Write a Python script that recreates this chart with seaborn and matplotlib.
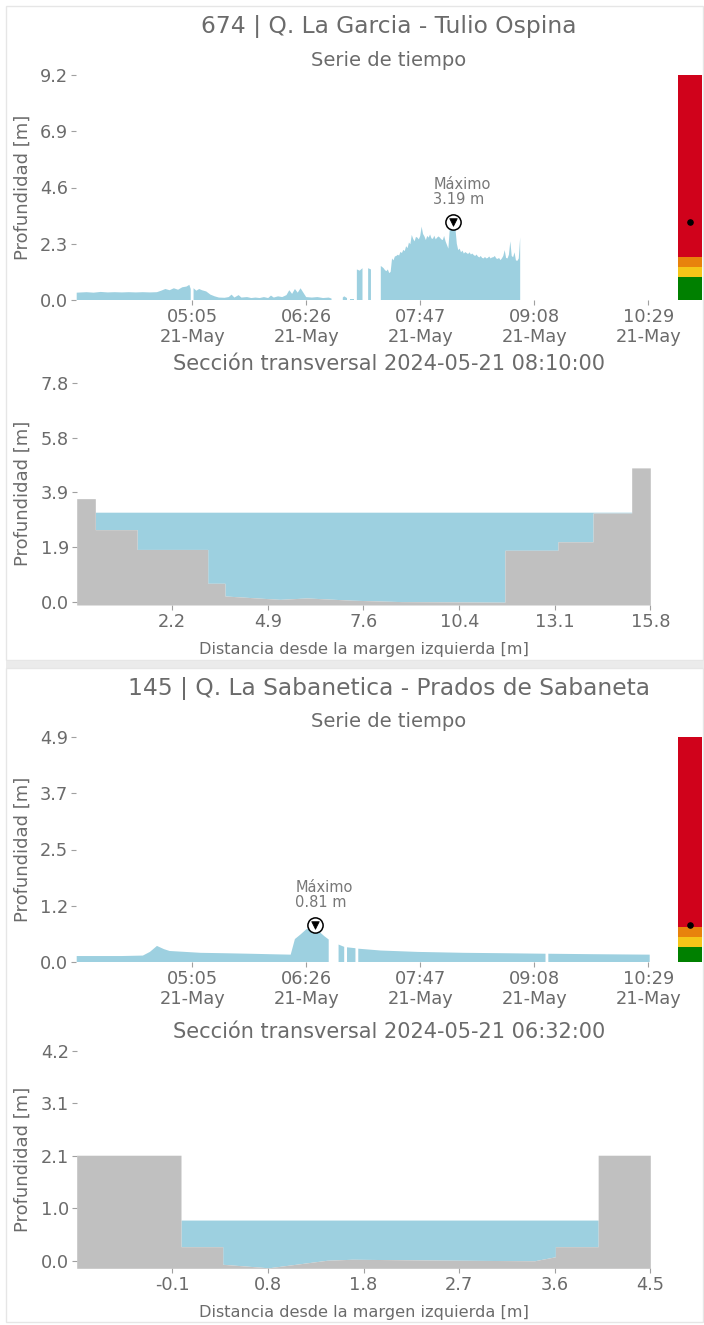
import numpy as np
import pandas as pd
import matplotlib
matplotlib.use("Agg")
import matplotlib.pyplot as plt
import matplotlib.dates as mdates
from matplotlib.patches import Rectangle
import seaborn as sns

# ---------------- DATA ----------------
DATE = "2024-05-21"

# Station 1
st1_title = "674 | Q. La Garcia - Tulio Ospina"
st1_times = ["03:43", "03:50", "03:55", "04:00", "04:05", "04:10", "04:15", "04:20", "04:25",
             "04:30", "04:35", "04:40", "04:43", "04:46", "04:49", "04:52", "04:55", "04:58",
             "05:01", "05:03", "05:04", "05:05", "05:06", "05:08", "05:10", "05:12", "05:15",
             "05:18", "05:21", "05:24", "05:28", "05:31", "05:33", "05:35", "05:38", "05:40",
             "05:44", "05:47", "05:50", "05:53", "05:56", "05:59", "06:01", "06:03", "06:06",
             "06:09", "06:12", "06:14", "06:16", "06:18", "06:20", "06:22", "06:24", "06:26",
             "06:30", "06:34", "06:38", "06:42", "06:44", "06:48", "06:52", "06:53", "06:55",
             "06:56", "06:57", "07:00", "07:01", "07:02", "07:04", "07:06", "07:08", "07:10",
             "07:12", "07:15",
             "07:19", "07:20", "07:21", "07:22", "07:23", "07:24", "07:25", "07:26", "07:27",
             "07:28", "07:29", "07:30", "07:31", "07:32", "07:33", "07:34", "07:35", "07:36",
             "07:37", "07:38", "07:39", "07:40", "07:41", "07:42", "07:43", "07:44", "07:45",
             "07:46", "07:47", "07:48", "07:49", "07:50", "07:51", "07:52", "07:53", "07:54",
             "07:55", "07:56", "07:57", "07:58", "07:59", "08:00", "08:01", "08:02", "08:03",
             "08:04", "08:05", "08:06", "08:07", "08:08", "08:09", "08:10", "08:11", "08:12",
             "08:13", "08:14", "08:15", "08:16", "08:17", "08:18", "08:19", "08:20", "08:21",
             "08:22", "08:23", "08:24", "08:25", "08:26", "08:27", "08:28", "08:29", "08:30",
             "08:31", "08:32", "08:33", "08:34", "08:35", "08:36", "08:37", "08:38", "08:39",
             "08:40", "08:41", "08:42", "08:43", "08:44", "08:45", "08:46", "08:47", "08:48",
             "08:49", "08:50", "08:51", "08:52", "08:53", "08:54", "08:55", "08:56", "08:57",
             "08:58"]
st1_depth = [0.30, 0.32, 0.30, 0.33, 0.31, 0.32, 0.31, 0.32, 0.31,
             0.32, 0.31, 0.32, 0.38, 0.45, 0.40, 0.48, 0.42, 0.52,
             0.55, 0.62, 0.45, np.nan, 0.48, 0.38, 0.45, 0.40, 0.35,
             0.22, 0.15, 0.10, 0.09, 0.12, 0.22, 0.10, 0.20, 0.10,
             0.12, 0.08, 0.10, 0.08, 0.12, 0.08, 0.18, 0.10, 0.15,
             0.12, 0.20, 0.40, 0.25, 0.45, 0.30, 0.48, 0.30, 0.12,
             0.10, 0.12, 0.08, 0.10, 0.06, np.nan, 0.10, 0.15, 0.08,
             np.nan, 0.05, 0.05, np.nan, 1.25, 1.20, 1.30, np.nan, 1.30,
             1.25, np.nan,
             1.39, 1.35, 1.30, 1.22, 1.18, 1.25, 1.10, 1.15, 1.70,
             1.62, 1.78, 1.80, 1.85, 1.82, 1.97, 1.92, 2.05, 2.00,
             2.20, 2.12, 2.35, 2.28, 2.66, 2.50, 2.40, 2.58, 2.55,
             2.48, 2.62, 3.00, 2.70, 2.60, 2.45, 2.62, 2.55, 2.68,
             2.52, 2.50, 2.63, 2.48, 2.55, 2.60, 2.55, 2.48, 2.45,
             2.62, 2.40, 2.25, 2.10, 2.93, 2.95, 3.19, 2.95, 2.93,
             2.30, 2.04, 2.10, 1.95, 2.02, 1.90, 1.96, 1.92, 1.88,
             1.95, 1.86, 1.90, 1.84, 1.80, 1.86, 1.78, 1.74, 1.80,
             1.72, 1.70, 1.76, 1.70, 1.72, 1.78, 1.70, 1.74, 1.75,
             1.80, 1.70, 1.68, 1.72, 1.63, 1.70, 1.80, 2.04, 1.72,
             1.70, 1.85, 2.40, 1.80, 1.75, 1.95, 1.62, 1.60, 1.70,
             2.56]
st1_ymax = 9.2
st1_levels = [0.94, 1.35, 1.76, 9.2]
st1_section_time = "2024-05-21 08:10:00"
st1_bed_x = [-0.53, 0.0, 0.0, 1.19, 1.19, 3.2, 3.2, 3.69, 3.69, 5.26, 6.02, 7.31, 8.73,
             11.66, 11.66, 13.17, 13.17, 14.17, 14.17, 15.27, 15.27, 15.8]
st1_bed_z = [3.67, 3.67, 2.57, 2.57, 1.87, 1.87, 0.67, 0.67, 0.22, 0.10, 0.15, 0.07, 0.02,
             0.0, 1.84, 1.84, 2.14, 2.14, 3.16, 3.16, 4.76, 4.76]
st1_water = 3.19
st1_sec_ymax = 7.78
st1_sec_xticks = [2.19, 4.91, 7.63, 10.36, 13.08, 15.8]

# Station 2
st2_title = "145 | Q. La Sabanetica - Prados de Sabaneta"
st2_times = ["03:43", "04:00", "04:15", "04:30", "04:35", "04:40", "04:45", "04:49", "05:00",
             "05:11", "05:30", "05:46", "06:00", "06:15", "06:18", "06:22", "06:26", "06:32",
             "06:36", "06:39", "06:42", "06:45", "06:49", "06:53", "06:54", "06:55", "07:01",
             "07:02", "07:03", "07:19", "07:45", "08:18", "08:50", "09:16", "09:17", "09:18",
             "09:50", "10:30"]
st2_depth = [0.13, 0.13, 0.13, 0.14, 0.22, 0.35, 0.28, 0.24, 0.22,
             0.20, 0.19, 0.18, 0.17, 0.16, 0.50, 0.60, 0.71, 0.81,
             0.64, 0.56, 0.49, np.nan, 0.38, 0.33, np.nan, 0.32, 0.30,
             np.nan, 0.29, 0.25, 0.22, 0.20, 0.19, 0.18, np.nan, 0.18,
             0.17, 0.16]
st2_ymax = 4.9
st2_levels = [0.32, 0.54, 0.77, 4.9]
st2_section_time = "2024-05-21 06:32:00"
st2_bed_x = [-1.0, 0.0, 0.0, 0.40, 0.40, 0.84, 1.40, 1.64, 2.67, 3.39, 3.59, 3.59, 4.0, 4.0, 4.5]
st2_bed_z = [2.1, 2.1, 0.28, 0.28, -0.07, -0.14, 0.01, 0.03, 0.01, 0.0, 0.08, 0.28, 0.28, 2.1, 2.1]
st2_water = 0.81
st2_sec_ymax = 4.18
st2_sec_xticks = [-0.083, 0.833, 1.75, 2.667, 3.583, 4.5]

time_window = ["03:42:30", "10:43:00"]
time_ticks = ["05:05", "06:26", "07:47", "09:08", "10:29"]
alert_colors = ["#008000", "#f5c518", "#e8820c", "#d0021b"]

# ---------------- STYLE ----------------
sns.set_theme(style="white")
plt.rcParams["font.family"] = ["DejaVu Sans"]
WATER = "#9dd0e0"
GROUND = "#c0c0c0"
TXT = "#6b6b6b"
TICKC = "#a0a0a0"

W, H = 704, 1325
fig = plt.figure(figsize=(W / 100, H / 100), dpi=100)


def px_axes(l, t, r, b):
    return fig.add_axes([l / W, 1 - b / H, (r - l) / W, (b - t) / H])


def style_axes(ax, size=12.5):
    sns.despine(ax=ax, left=True, bottom=True, top=True, right=True)
    ax.tick_params(axis="both", which="major", length=3.5, width=0.8, color=TICKC,
                   labelcolor=TXT, labelsize=size, pad=2, left=True, bottom=True)
    ax.set_facecolor("white")
    ax.grid(False)


def draw_station(off, title, times, depth, ymax, levels, sec_time, bed_x, bed_z,
                 water, sec_ymax, sec_xticks, sec_top, sec_bot, sec_xlim):
    # card frame
    fig.patches.append(Rectangle((6 / W, 1 - (off + 654) / H), 697 / W, 654 / H,
                                 transform=fig.transFigure, fill=False,
                                 ec="#e6e6e6", lw=1.0))
    fig.text(389 / W, 1 - (off + 20) / H, title, ha="center", va="center",
             fontsize=16.8, color=TXT)
    fig.text(389 / W, 1 - (off + 54) / H, "Serie de tiempo", ha="center", va="center",
             fontsize=14, color=TXT)

    # time series
    t = pd.to_datetime([f"{DATE} {s}" for s in times])
    d = np.array(depth, dtype=float)
    ax = px_axes(76, off + 69, 668, off + 294)
    ax.fill_between(t, 0, d, color=WATER, lw=0)
    ax.set_xlim(pd.to_datetime(f"{DATE} {time_window[0]}"),
                pd.to_datetime(f"{DATE} {time_window[1]}"))
    ax.set_ylim(0, ymax)
    ax.set_yticks(np.linspace(0, ymax, 5))
    ax.yaxis.set_major_formatter(matplotlib.ticker.FormatStrFormatter("%.1f"))
    ax.set_xticks(pd.to_datetime([f"{DATE} {s}" for s in time_ticks]))
    ax.xaxis.set_major_formatter(mdates.DateFormatter("%H:%M\n%d-%b"))
    style_axes(ax, 12.8)
    ax.set_ylabel("Profundidad [m]", fontsize=13, color=TXT)
    ax.yaxis.set_label_coords(-(76 - 32) / 592, 0.5)

    imax = int(np.nanargmax(d))
    tmax, vmax = t[imax], d[imax]
    sns.scatterplot(x=[tmax], y=[vmax], ax=ax, s=120, color="white",
                    edgecolor="black", linewidth=1.1, zorder=5, legend=False)
    sns.scatterplot(x=[tmax], y=[vmax], ax=ax, marker="v", s=30, color="black",
                    edgecolor="black", linewidth=0.5, zorder=6, legend=False)
    ax.annotate(f"Máximo\n{vmax:.2f} m", xy=(tmax, vmax), xytext=(-14, 11),
                textcoords="offset points", ha="left", va="bottom",
                fontsize=10.5, color="#777777", linespacing=1.0)

    # alert bar
    cb = px_axes(678, off + 69, 702, off + 294)
    bottoms = [0] + levels[:-1]
    heights = [hi - lo for lo, hi in zip(bottoms, levels)]
    cb.bar([0] * len(levels), heights, bottom=bottoms, width=1.0,
           color=alert_colors, linewidth=0)
    cb.scatter([0], [vmax], s=14, color="black", zorder=3)
    cb.set_xlim(-0.5, 0.5)
    cb.set_ylim(0, ymax)
    cb.axis("off")

    # cross section
    fig.text(389 / W, 1 - (sec_top - 19) / H, f"Sección transversal {sec_time}",
             ha="center", va="center", fontsize=15, color=TXT)
    ax2 = px_axes(76.7, sec_top, 650.3, sec_bot)
    bx = np.array(bed_x)
    bz = np.array(bed_z)
    ylo = min(-0.1, bz.min() - 0.01)
    ax2.fill_between(bx, np.minimum(bz, water), water, color=WATER, lw=0)
    ax2.fill_between(bx, ylo, bz, color=GROUND, lw=0)
    ax2.set_xlim(*sec_xlim)
    ax2.set_ylim(ylo, sec_ymax)
    ax2.set_yticks(np.linspace(0, sec_ymax, 5))
    ax2.yaxis.set_major_formatter(matplotlib.ticker.FormatStrFormatter("%.1f"))
    ax2.set_xticks(sec_xticks)
    ax2.xaxis.set_major_formatter(matplotlib.ticker.FormatStrFormatter("%.1f"))
    style_axes(ax2, 12.8)
    ax2.set_ylabel("Profundidad [m]", fontsize=13, color=TXT)
    ax2.yaxis.set_label_coords(-(76.7 - 32) / 573.6, 0.5)
    ax2.set_xlabel("Distancia desde la margen izquierda [m]", fontsize=11.6, color=TXT)
    ax2.xaxis.set_label_coords(0.5, -(37) / (sec_bot - sec_top))


draw_station(6, st1_title, st1_times, st1_depth, st1_ymax, st1_levels, st1_section_time,
             st1_bed_x, st1_bed_z, st1_water, st1_sec_ymax, st1_sec_xticks,
             382.7, 605, (-0.53, 15.8))

# separator band between cards
fig.patches.append(Rectangle((6 / W, 1 - 668 / H), (W - 6) / W, 7 / H,
                             transform=fig.transFigure, fc="#ebebeb", ec="none"))

draw_station(668, st2_title, st2_times, st2_depth, st2_ymax, st2_levels, st2_section_time,
             st2_bed_x, st2_bed_z, st2_water, st2_sec_ymax, st2_sec_xticks,
             1050.7, 1268.3, (-1.0, 4.5))

fig.savefig("out.png", dpi=100, facecolor="white")
